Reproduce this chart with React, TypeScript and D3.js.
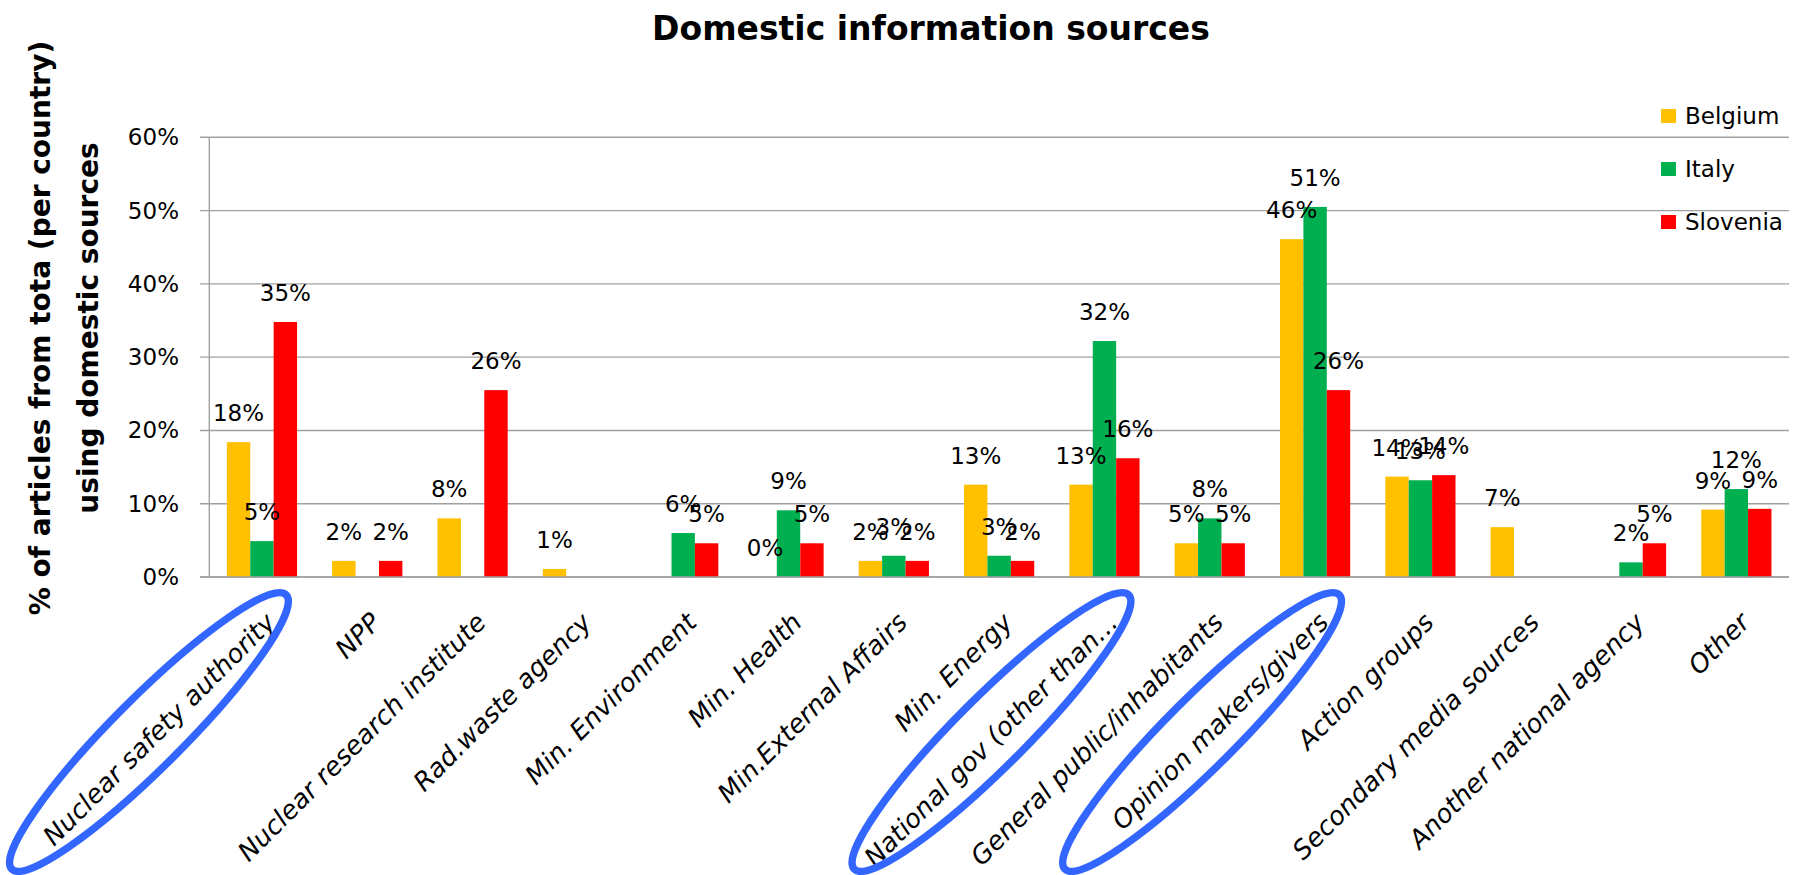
import React from "react";
import * as d3 from "d3";

const categories = [
  "Nuclear safety authority",
  "NPP",
  "Nuclear research institute",
  "Rad.waste agency",
  "Min. Environment",
  "Min. Health",
  "Min.External Affairs",
  "Min. Energy",
  "National gov (other than…",
  "General public/inhabitants",
  "Opinion makers/givers",
  "Action groups",
  "Secondary media sources",
  "Another national agency",
  "Other",
];

const seriesNames = ["Belgium", "Italy", "Slovenia"];
const seriesColors = ["#FFC000", "#00B050", "#FF0000"];

const belgium = [18.4, 2.2, 8.0, 1.1, null, 0, 2.2, 12.6, 12.6, 4.6, 46.1, 13.7, 6.8, null, 9.2];
const italy = [4.9, null, null, null, 6.0, 9.1, 2.9, 2.9, 32.2, 8.0, 50.5, 13.2, null, 2.0, 12.0];
const slovenia = [34.8, 2.2, 25.5, null, 4.6, 4.6, 2.2, 2.2, 16.2, 4.6, 25.5, 13.9, null, 4.6, 9.3];

const yTicks = [0, 10, 20, 30, 40, 50, 60];

const highlighted = [
  "Nuclear safety authority",
  "National gov (other than…",
  "Opinion makers/givers",
];

const title = "Domestic information sources";
const yTitleLines = ["% of articles from tota (per country)", "using domestic sources"];

const W = 1802;
const H = 875;
const FONT = "'DejaVu Sans', sans-serif";

export default function App() {
  const plotLeft = 209.3;
  const plotRight = 1789;
  const plotTop = 137.3;
  const plotBottom = 577;

  const x = d3.scaleBand<string>().domain(categories).range([plotLeft, plotRight]).padding(0);
  const xs = d3
    .scaleBand<string>()
    .domain(seriesNames)
    .range([0, x.bandwidth()])
    .paddingInner(0)
    .paddingOuter(0.75);
  const y = d3.scaleLinear().domain([0, 60]).range([plotBottom, plotTop]);

  const values = [belgium, italy, slovenia];

  return (
    <div style={{ position: "absolute", left: 0, top: 0 }}>
      <svg width={W} height={H} style={{ display: "block", background: "#fff" }} fontFamily={FONT}>
        {/* title */}
        <text x={931} y={40} textAnchor="middle" fontSize={33} fontWeight="bold" fill="#000">
          {title}
        </text>

        {/* gridlines */}
        {yTicks.map((t) => (
          <g key={t}>
            <line x1={200} x2={plotRight} y1={y(t)} y2={y(t)} stroke="#A0A0A0" strokeWidth={1.4} />
            <text
              x={179}
              y={y(t)}
              textAnchor="end"
              dominantBaseline="central"
              fontSize={23}
              fill="#000"
            >
              {t}%
            </text>
          </g>
        ))}
        {/* y axis line */}
        <line x1={plotLeft} x2={plotLeft} y1={plotTop} y2={plotBottom} stroke="#A0A0A0" strokeWidth={1.4} />

        {/* bars */}
        {values.map((vals, si) =>
          vals.map((v, ci) => {
            if (v === null) return null;
            const cx = (x(categories[ci]) as number) + (xs(seriesNames[si]) as number);
            return (
              <rect
                key={`b-${si}-${ci}`}
                x={cx}
                y={y(v)}
                width={xs.bandwidth()}
                height={y(0) - y(v)}
                fill={seriesColors[si]}
              />
            );
          })
        )}
        {/* x axis baseline */}
        <line x1={200} x2={plotRight} y1={plotBottom} y2={plotBottom} stroke="#A0A0A0" strokeWidth={1.4} />

        {/* data labels */}
        {values.map((vals, si) =>
          vals.map((v, ci) => {
            if (v === null) return null;
            const cx =
              (x(categories[ci]) as number) + (xs(seriesNames[si]) as number) + xs.bandwidth() / 2;
            return (
              <text
                key={`l-${si}-${ci}`}
                x={cx}
                y={y(v) - 21}
                textAnchor="middle"
                fontSize={23}
                fill="#000"
              >
                {Math.round(v)}%
              </text>
            );
          })
        )}

        {/* category labels */}
        {categories.map((c) => {
          const cx = (x(c) as number) + x.bandwidth() / 2;
          return (
            <text
              key={c}
              transform={`translate(${cx + 15},${624}) rotate(-45)`}
              textAnchor="end"
              fontSize={26}
              fontStyle="italic"
              fill="#000"
            >
              {c}
            </text>
          );
        })}

        {/* highlight ellipses */}
        {highlighted.map((c) => {
          const cx = (x(c) as number) + x.bandwidth() / 2 - 113;
          const cy = 732;
          return (
            <ellipse
              key={`e-${c}`}
              cx={0}
              cy={0}
              rx={194}
              ry={35}
              transform={`translate(${cx},${cy}) rotate(-45)`}
              fill="none"
              stroke="#3366FF"
              strokeWidth={7.5}
            />
          );
        })}

        {/* y title */}
        {yTitleLines.map((line, i) => (
          <text
            key={line}
            transform={`translate(${50 + i * 48},${328}) rotate(-90)`}
            textAnchor="middle"
            fontSize={28}
            fontWeight="bold"
            fill="#000"
          >
            {line}
          </text>
        ))}

        {/* legend */}
        {seriesNames.map((s, i) => (
          <g key={s} transform={`translate(1661,${116 + i * 53})`}>
            <rect x={0} y={-7} width={15} height={14} fill={seriesColors[i]} />
            <text x={24} y={0} dominantBaseline="central" fontSize={23} fill="#000">
              {s}
            </text>
          </g>
        ))}
      </svg>
    </div>
  );
}
